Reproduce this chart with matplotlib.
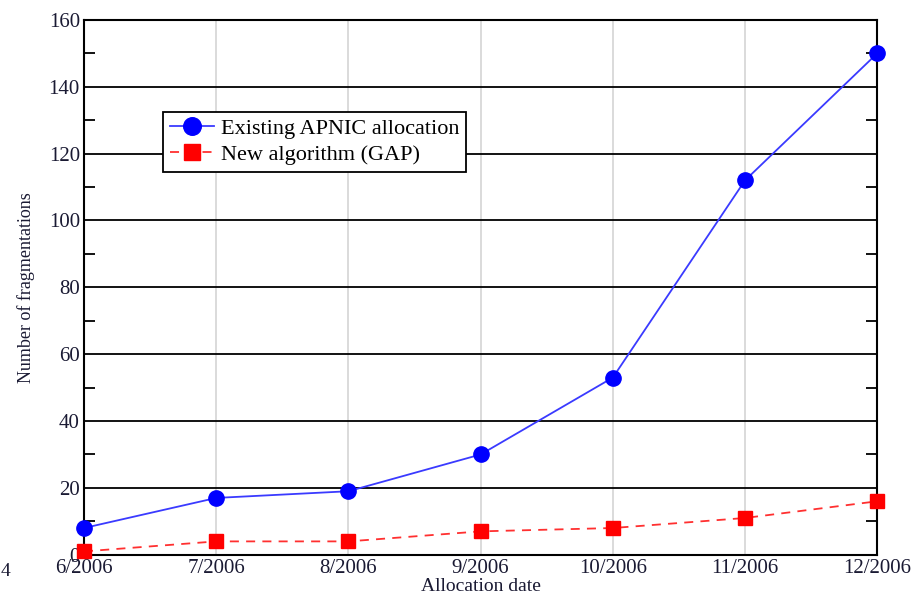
import numpy as np
import matplotlib.pyplot as plt
from matplotlib.ticker import MultipleLocator

## data
dates = ['6/2006', '7/2006', '8/2006', '9/2006', '10/2006', '11/2006', '12/2006']
apnic = [8, 17, 19, 30, 53, 112, 150]
gap = [1, 4, 4, 7, 8, 11, 16]

plt.rcParams['font.family'] = ['Liberation Serif', 'DejaVu Serif']

fig = plt.figure(figsize=(9.16, 6.03), dpi=100)
ax = fig.add_axes([0.0917, 0.080, 0.866, 0.887])

x = np.arange(len(dates))
ax.plot(x, apnic, color='#3a3aff', lw=1.3, marker='o', ms=11,
        mfc='blue', mec='blue', label='Existing APNIC allocation', clip_on=False, zorder=4)
ax.plot(x, gap, color='#ff3030', lw=1.3, ls=(0, (5, 4)), marker='s', ms=10,
        mfc='red', mec='red', label='New algorithm (GAP)', clip_on=False, zorder=4)

ax.set_xlim(0, len(dates) - 1)
ax.set_ylim(0, 160)
ax.set_xticks(x)
ax.set_xticklabels(dates)
ax.yaxis.set_major_locator(MultipleLocator(20))
ax.yaxis.set_minor_locator(MultipleLocator(10))

# black horizontal grid, light gray vertical grid
ax.grid(axis='y', which='major', color='black', lw=1.3)
ax.grid(axis='x', which='major', color='#d8d8d8', lw=1.3)
ax.set_axisbelow(True)

ax.tick_params(axis='y', which='both', direction='in', right=True, labelsize=15,
               length=8, width=1.3, pad=3)
ax.tick_params(axis='y', which='major', length=0)
ax.tick_params(axis='x', which='both', length=0, labelsize=15, pad=3)
for lbl in ax.get_xticklabels() + ax.get_yticklabels():
    lbl.set_color('#1a1a33')
for s in ax.spines.values():
    s.set_linewidth(1.5)

ax.set_xlabel('Allocation date', fontsize=14, labelpad=0, color='#1a1a33')
ax.set_ylabel('Number of fragmentations', fontsize=13, labelpad=10, color='#1a1a33')

leg = ax.legend(loc='upper left', bbox_to_anchor=(0.100, 0.828), fontsize=16,
                fancybox=False, framealpha=1, edgecolor='black', borderpad=0.3,
                handlelength=2.0, handletextpad=0.3, labelspacing=0.25, borderaxespad=0,
                markerscale=1.15)
leg.get_frame().set_linewidth(1.3)

# stray page number fragment at the bottom-left edge
fig.text(0.001, 0.045, '4', fontsize=14, color='#1a1a33')

fig.savefig('out.png', dpi=100)
